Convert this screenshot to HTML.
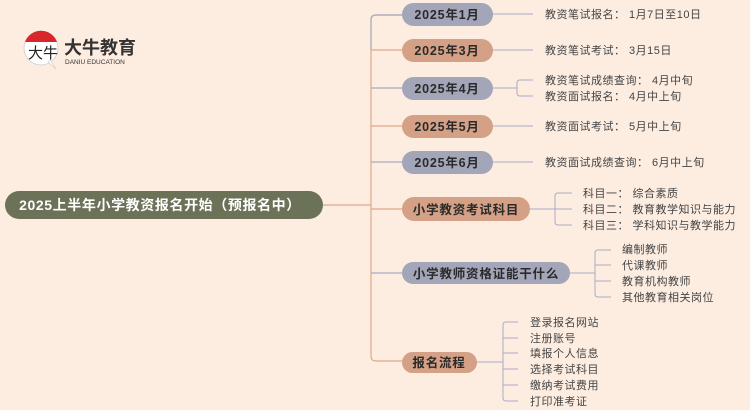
<!DOCTYPE html>
<html><head><meta charset="utf-8"><style>
body{margin:0;background:#fdede1;}
svg{display:block}
text{font-family:"Liberation Sans","Noto Sans CJK SC",sans-serif;}
.n{font-weight:bold;font-size:12.5px;fill:#2a2a2a;letter-spacing:0.8px}
.l{font-size:11px;fill:#444;letter-spacing:0.5px}
</style></head><body>
<svg width="750" height="410" viewBox="0 0 750 410" xmlns="http://www.w3.org/2000/svg">
<rect width="750" height="410" fill="#fdede1"/>
<circle cx="41" cy="48" r="17" fill="#fff" stroke="#ccc" stroke-width="0.8"/>
<path d="M25 42 A17 17 0 0 1 57 42 Z" fill="#d8262b"/>
<path d="M48 62 L56 69 L50 60 Z" fill="#fff" stroke="#ccc" stroke-width="0.6"/>
<text x="28" y="58" font-size="15" font-family="Noto Serif CJK SC,serif" fill="#222">大牛</text>
<text x="64" y="54" font-size="18" font-weight="bold" fill="#333">大牛教育</text>
<text x="65" y="64" font-size="6.5" fill="#333">DANIU EDUCATION</text>
<rect x="5" y="191" width="318" height="28" rx="14" fill="#6b7257"/>
<text x="160" y="210" text-anchor="middle" font-size="14" font-weight="bold" fill="#fff" letter-spacing="0.6">2025上半年小学教资报名开始（预报名中）</text>
<line x1="323" y1="205" x2="371" y2="205" stroke="#e0a98a" stroke-width="1.2"/>
<path d="M402 15 H376 Q371 15 371 20 V356 Q371 361 376 361 H402" fill="none" stroke="#e0a98a" stroke-width="1.2"/>
<path d="M402 15 H376 Q371 15 371 20 V50" fill="none" stroke="#a9abc2" stroke-width="1.2"/>
<g stroke-width="1.2">
<line x1="371" y1="50" x2="402" y2="50" stroke="#e0a98a"/>
<line x1="371" y1="88" x2="402" y2="88" stroke="#a9abc2"/>
<line x1="371" y1="126" x2="402" y2="126" stroke="#e0a98a"/>
<line x1="371" y1="162" x2="402" y2="162" stroke="#a9abc2"/>
<line x1="371" y1="209" x2="402" y2="209" stroke="#e0a98a"/>
<line x1="371" y1="273" x2="402" y2="273" stroke="#a9abc2"/>
</g>
<g>
<rect x="402" y="3" width="91" height="23" rx="11.5" fill="#a3a5b8"/>
<rect x="402" y="39" width="91" height="23" rx="11.5" fill="#d4a086"/>
<rect x="402" y="77" width="91" height="23" rx="11.5" fill="#a3a5b8"/>
<rect x="402" y="115" width="91" height="23" rx="11.5" fill="#d4a086"/>
<rect x="402" y="151" width="91" height="23" rx="11.5" fill="#a3a5b8"/>
</g>
<text class="n" x="447" y="19" text-anchor="middle">2025年1月</text>
<text class="n" x="447" y="55" text-anchor="middle">2025年3月</text>
<text class="n" x="447" y="93" text-anchor="middle">2025年4月</text>
<text class="n" x="447" y="131" text-anchor="middle">2025年5月</text>
<text class="n" x="447" y="167" text-anchor="middle">2025年6月</text>
<g stroke="#a9abc2" stroke-width="1" fill="none">
<line x1="493" y1="14" x2="533" y2="14"/>
<line x1="493" y1="50" x2="533" y2="50"/>
<line x1="493" y1="88" x2="517" y2="88"/>
<path d="M533 80 H520 Q517 80 517 83 V93 Q517 96 520 96 H533"/>
<line x1="493" y1="126" x2="533" y2="126"/>
<line x1="493" y1="162" x2="533" y2="162"/>
</g>
<text class="l" x="545" y="18">教资笔试报名：  1月7日至10日</text>
<text class="l" x="545" y="54">教资笔试考试：  3月15日</text>
<text class="l" x="545" y="84">教资笔试成绩查询：  4月中旬</text>
<text class="l" x="545" y="100">教资面试报名：  4月中上旬</text>
<text class="l" x="545" y="130">教资面试考试：  5月中上旬</text>
<text class="l" x="545" y="166">教资面试成绩查询：  6月中上旬</text>
<rect x="402" y="197" width="128" height="24" rx="12" fill="#d4a086"/>
<text class="n" x="466" y="214" text-anchor="middle">小学教资考试科目</text>
<g stroke="#a9abc2" stroke-width="1" fill="none">
<line x1="530" y1="209" x2="555" y2="209"/>
<path d="M572 193 H558 Q555 193 555 196 V222 Q555 225 558 225 H572"/>
<line x1="555" y1="209" x2="572" y2="209"/>
</g>
<text class="l" x="583" y="197">科目一：  综合素质</text>
<text class="l" x="583" y="213">科目二：  教育教学知识与能力</text>
<text class="l" x="583" y="229">科目三：  学科知识与教学能力</text>
<rect x="402" y="262" width="168" height="22" rx="11" fill="#a3a5b8"/>
<text class="n" x="486" y="278" text-anchor="middle">小学教师资格证能干什么</text>
<g stroke="#a9abc2" stroke-width="1" fill="none">
<line x1="570" y1="273" x2="595" y2="273"/>
<path d="M611 250 H598 Q595 250 595 253 V294 Q595 297 598 297 H611"/>
<line x1="595" y1="265" x2="611" y2="265"/>
<line x1="595" y1="281" x2="611" y2="281"/>
</g>
<text class="l" x="622" y="253">编制教师</text>
<text class="l" x="622" y="269">代课教师</text>
<text class="l" x="622" y="285">教育机构教师</text>
<text class="l" x="622" y="301">其他教育相关岗位</text>
<rect x="402" y="352" width="75" height="21" rx="10.5" fill="#d4a086"/>
<text class="n" x="439" y="367" text-anchor="middle">报名流程</text>
<g stroke="#a9abc2" stroke-width="1" fill="none">
<line x1="477" y1="362" x2="503" y2="362"/>
<path d="M518 322 H506 Q503 322 503 325 V398 Q503 401 506 401 H518"/>
<line x1="503" y1="338" x2="518" y2="338"/>
<line x1="503" y1="353" x2="518" y2="353"/>
<line x1="503" y1="369" x2="518" y2="369"/>
<line x1="503" y1="385" x2="518" y2="385"/>
</g>
<text class="l" x="530" y="326">登录报名网站</text>
<text class="l" x="530" y="342">注册账号</text>
<text class="l" x="530" y="357">填报个人信息</text>
<text class="l" x="530" y="373">选择考试科目</text>
<text class="l" x="530" y="389">缴纳考试费用</text>
<text class="l" x="530" y="405">打印准考证</text>
</svg>
</body></html>
